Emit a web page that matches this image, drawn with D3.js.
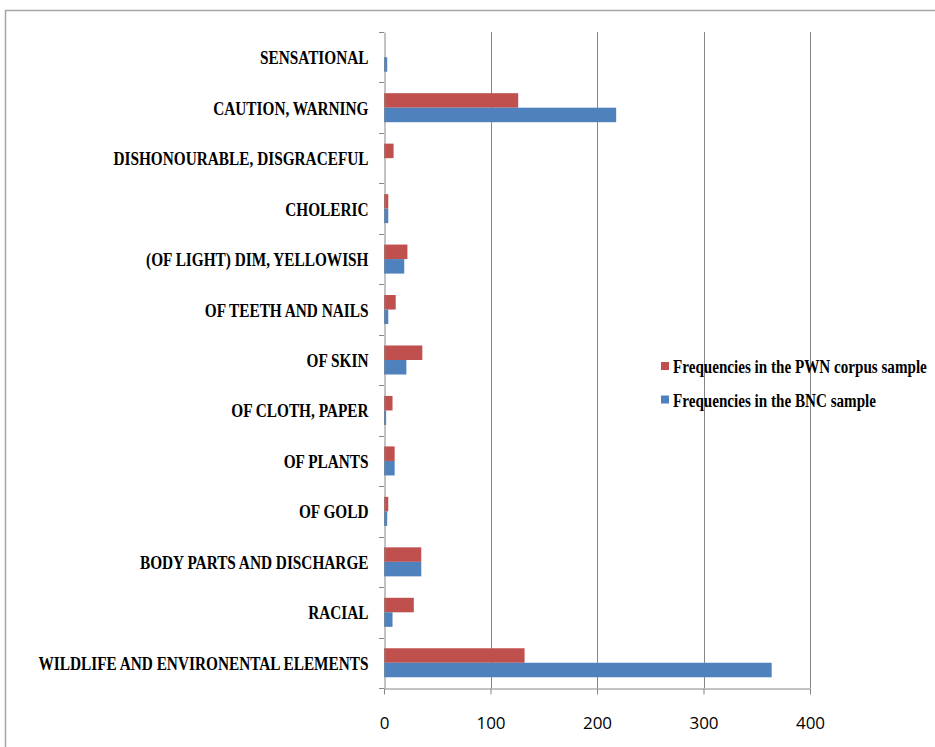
<!DOCTYPE html>
<html>
<head>
<meta charset="utf-8">
<script src="https://cdn.jsdelivr.net/npm/d3@7"></script>
<style>
    body { margin: 0; background: #fff; }
    .cat-label { font-family: "Liberation Serif", "Times New Roman", serif; font-weight: bold; font-size: 18px; fill: #000; }
    .num-label { font-family: "Open Sans", sans-serif; font-size: 17px; fill: #000; }
    .legend-label { font-family: "Liberation Serif", "Times New Roman", serif; font-weight: bold; font-size: 18px; fill: #000; }
</style>
</head>
<body>
<div id="chart"></div>
<script>
(function () {

    // categories, top to bottom
    var CATEGORIES = [
        "SENSATIONAL",
        "CAUTION, WARNING",
        "DISHONOURABLE, DISGRACEFUL",
        "CHOLERIC",
        "(OF LIGHT) DIM, YELLOWISH",
        "OF TEETH AND NAILS",
        "OF SKIN",
        "OF CLOTH, PAPER",
        "OF PLANTS",
        "OF GOLD",
        "BODY PARTS AND DISCHARGE",
        "RACIAL",
        "WILDLIFE AND ENVIRONENTAL ELEMENTS"
    ];

    var PWN_VALUES = [0, 126, 9, 4, 22, 11, 36, 8, 10, 4, 35, 28, 132];
    var BNC_VALUES = [3, 218, 0, 4, 19, 4, 21, 2, 10, 3, 35, 8, 364];

    var X_TICKS = [0, 100, 200, 300, 400];

    var SERIES = [
        { key: "pwn", values: PWN_VALUES, color: "#C0504D", label: "Frequencies in the PWN corpus sample" },
        { key: "bnc", values: BNC_VALUES, color: "#4F81BD", label: "Frequencies in the BNC sample" }
    ];

    var W = 935, H = 747;
    var plot = { left: 384, right: 810, top: 32, bottom: 688 };

    // the serif labels in the original are squeezed sideways
    function squeeze(sel, factor) {
        sel.each(function () {
            var len = this.getComputedTextLength();
            d3.select(this)
                .attr("textLength", len * factor)
                .attr("lengthAdjust", "spacingAndGlyphs");
        });
    }

    var svg = d3.select("#chart")
        .append("svg")
        .attr("width", W)
        .attr("height", H);

    // outer chart border (runs off the right and bottom)
    svg.append("rect")
        .attr("x", 5.5).attr("y", 10.5)
        .attr("width", 1000).attr("height", 800)
        .attr("fill", "none")
        .attr("stroke", "#a6a6a6")
        .attr("stroke-width", 1.5);

    /* scales */
    var x = d3.scaleLinear()
        .domain([0, 400])
        .range([plot.left, plot.right]);

    var y = d3.scaleBand()
        .domain(CATEGORIES)
        .range([plot.top, plot.bottom])
        .paddingInner(0.425)
        .paddingOuter(0.2125);

    var ySub = d3.scaleBand()
        .domain(SERIES.map(function (s) { return s.key; }))
        .range([0, y.bandwidth()]);

    /* gridlines */
    svg.append("g")
        .selectAll("line")
        .data(X_TICKS.slice(1))
        .enter()
        .append("line")
        .attr("x1", function (d) { return Math.round(x(d)) + 0.5; })
        .attr("x2", function (d) { return Math.round(x(d)) + 0.5; })
        .attr("y1", plot.top)
        .attr("y2", plot.bottom)
        .attr("stroke", "#868686")
        .attr("stroke-width", 1);

    /* bars */
    SERIES.forEach(function (s) {
        svg.append("g")
            .selectAll("rect")
            .data(CATEGORIES)
            .enter()
            .append("rect")
            .attr("x", x(0))
            .attr("y", function (d) { return y(d) + ySub(s.key); })
            .attr("width", function (d, i) { return x(s.values[i]) - x(0); })
            .attr("height", ySub.bandwidth())
            .attr("fill", s.color);
    });

    /* x axis */
    var xAxis = svg.append("g")
        .attr("transform", "translate(0," + (plot.bottom + 0.5) + ")")
        .call(d3.axisBottom(x).tickValues(X_TICKS).tickSize(6).tickSizeOuter(0));
    xAxis.attr("font-family", null).attr("font-size", null);
    xAxis.select(".domain").attr("stroke", "#868686");
    xAxis.selectAll(".tick line").attr("stroke", "#868686");
    xAxis.selectAll(".tick text")
        .attr("class", "num-label")
        .attr("y", 40).attr("dy", 0);

    /* y axis */
    var yAxis = svg.append("g")
        .attr("transform", "translate(" + (plot.left + 0.5) + ",0)")
        .call(d3.axisLeft(y).tickSize(0).tickPadding(16));
    yAxis.attr("font-family", null).attr("font-size", null);
    yAxis.select(".domain").attr("stroke", "#868686");
    yAxis.selectAll(".tick text")
        .attr("class", "cat-label")
        .attr("dy", 7)
        .call(squeeze, 0.85);

    // category boundary ticks
    var bounds = CATEGORIES.map(function (d) { return y(d) - y.step() * y.paddingInner() / 2; });
    bounds.push(plot.bottom);
    svg.append("g")
        .selectAll("line")
        .data(bounds)
        .enter()
        .append("line")
        .attr("x1", plot.left - 5)
        .attr("x2", plot.left)
        .attr("y1", function (d) { return Math.round(d) + 0.5; })
        .attr("y2", function (d) { return Math.round(d) + 0.5; })
        .attr("stroke", "#868686");

    /* legend */
    var legend = svg.append("g").attr("transform", "translate(661,362)");
    SERIES.forEach(function (s, i) {
        var g = legend.append("g").attr("transform", "translate(0," + (i * 33.5) + ")");
        g.append("rect")
            .attr("width", 8).attr("height", 8)
            .attr("fill", s.color);
        g.append("text")
            .attr("class", "legend-label")
            .attr("x", 12).attr("y", 11)
            .text(s.label)
            .call(squeeze, 0.84);
    });

}());
</script>
</body>
</html>
